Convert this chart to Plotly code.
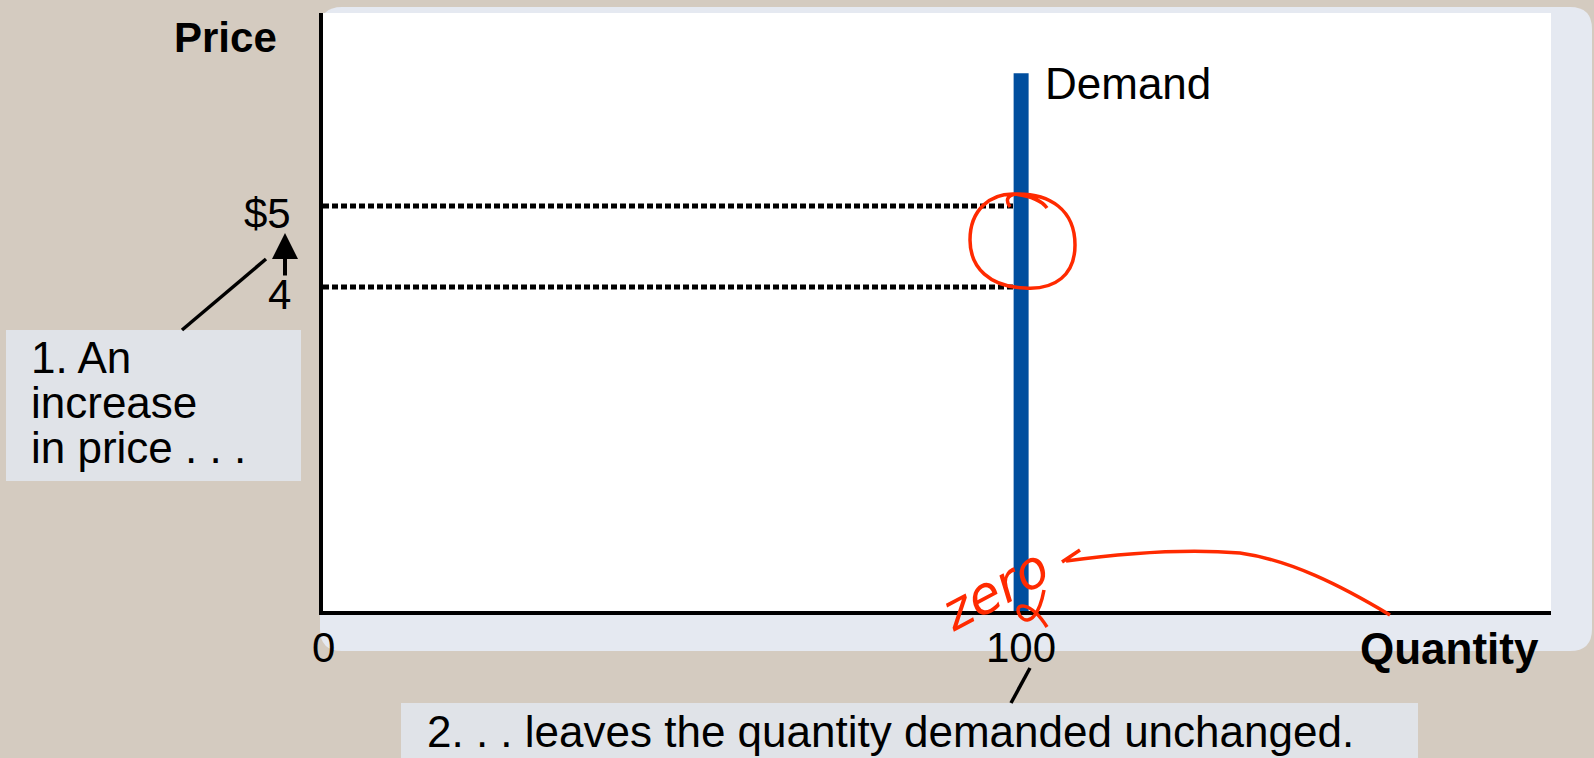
import plotly.graph_objects as go

# --- chart values ---
quantity_demanded = [100, 100]
demand_price = [0, 6.64]
guide_prices = [5, 4]
price_labels = ["$5", "4"]
qty_ticks = [0, 100]
qty_tick_labels = ["0", "100"]
x_max = 175.9
y_max = 7.383

W, H = 1594, 758
L, R, T, B = 323, 1551, 13, 611

FONT = "Liberation Sans, Arial, sans-serif"
RED = "#FF2A00"
BOX = "#E0E3E8"


def px(x):
    return (x - L) / (R - L)


def py(y):
    return (B - y) / (B - T)


def path(cmds):
    # cmds: list of (letter, [(x, y), ...]) in pixels -> svg path in paper units
    out = []
    for c, pts in cmds:
        out.append(c + " ".join(f"{px(x):.5f},{py(y):.5f}" for x, y in pts))
    return " ".join(out)


def rounded_rect(x0, y0, x1, y1, r):
    return path([
        ("M", [(x0 + r, y0)]),
        ("L", [(x1 - r, y0)]),
        ("Q", [(x1, y0), (x1, y0 + r)]),
        ("L", [(x1, y1 - r)]),
        ("Q", [(x1, y1), (x1 - r, y1)]),
        ("L", [(x0 + r, y1)]),
        ("Q", [(x0, y1), (x0, y1 - r)]),
        ("L", [(x0, y0 + r)]),
        ("Q", [(x0, y0), (x0 + r, y0)]),
    ]) + " Z"


fig = go.Figure()

# dotted guides from the price axis to the demand curve
for p in guide_prices:
    fig.add_trace(go.Scatter(
        x=[0, quantity_demanded[0]], y=[p, p], mode="lines",
        line=dict(color="black", width=5, dash="6px,3px"),
        hoverinfo="skip", showlegend=False,
    ))

fig.add_trace(go.Scatter(
    x=quantity_demanded, y=demand_price, mode="lines",
    line=dict(color="#004E9E", width=15),
    hoverinfo="skip", showlegend=False,
))

shapes = [
    # card behind the plot
    dict(type="path", xref="paper", yref="paper", layer="below",
         path=rounded_rect(320, 7, 1592, 651, 22),
         fillcolor="#E5E9F1", line=dict(width=0)),
    dict(type="rect", xref="paper", yref="paper", layer="below",
         x0=0, x1=1, y0=0, y1=1,
         fillcolor="white", line=dict(width=0)),
    # callout boxes
    dict(type="rect", xref="paper", yref="paper", layer="below",
         x0=px(6), x1=px(301), y0=py(330), y1=py(481),
         fillcolor=BOX, line=dict(width=0)),
    dict(type="rect", xref="paper", yref="paper", layer="below",
         x0=px(401), x1=px(1418), y0=py(703), y1=py(758),
         fillcolor=BOX, line=dict(width=0)),
    # leader lines
    dict(type="line", xref="paper", yref="paper",
         x0=px(182), y0=py(330), x1=px(266), y1=py(259),
         line=dict(color="black", width=3.5)),
    dict(type="line", xref="paper", yref="paper",
         x0=px(1030), y0=py(668), x1=px(1011), y1=py(703),
         line=dict(color="black", width=3.5)),
    # hand-drawn red circle
    dict(type="path", xref="paper", yref="paper",
         path=path([
             ("M", [(1010, 207)]),
             ("Q", [(1003, 197), (1015, 194)]),
             ("C", [(1050, 193), (1075, 210), (1075, 245)]),
             ("C", [(1075, 275), (1055, 290), (1025, 288)]),
             ("C", [(990, 287), (970, 268), (970, 240)]),
             ("C", [(970, 210), (990, 193), (1015, 194)]),
             ("C", [(1030, 196), (1042, 201), (1047, 208)]),
         ]),
         line=dict(color=RED, width=3.5)),
    # hand-drawn red arrow
    dict(type="path", xref="paper", yref="paper",
         path=path([
             ("M", [(1390, 615)]),
             ("C", [(1340, 585), (1290, 560), (1240, 553)]),
             ("C", [(1180, 548), (1110, 555), (1066, 561)]),
             ("M", [(1080, 550)]),
             ("L", [(1062, 562), (1085, 582)]),
         ]),
         line=dict(color=RED, width=3.5)),
    dict(type="path", xref="paper", yref="paper",
         path=path([
             ("M", [(1044, 590)]),
             ("C", [(1040, 612), (1030, 628), (1020, 616)]),
             ("C", [(1012, 602), (1030, 600), (1047, 627)]),
         ]),
         line=dict(color=RED, width=3.5)),
]

annotations = [
    dict(text="<b>Price</b>", x=px(225), y=py(38),
         font=dict(family=FONT, size=42, color="black")),
    dict(text="<b>Quantity</b>", x=px(1449), y=py(648)),
    dict(text="Demand", x=px(1043), y=py(83), xanchor="left"),
    dict(text="1. An", x=px(29), y=py(357), xanchor="left"),
    dict(text="increase", x=px(29), y=py(402), xanchor="left"),
    dict(text="in price . . .", x=px(29), y=py(447), xanchor="left"),
    dict(text="2. . . leaves the quantity demanded unchanged.",
         x=px(425), y=py(731), xanchor="left"),
    dict(text="zero", x=px(994), y=py(590), textangle=-28,
         font=dict(family="DejaVu Sans, sans-serif", size=52, color=RED, style="italic")),
    # price move arrow
    dict(text="", x=px(285), y=py(233), showarrow=True, ax=0, ay=44,
         arrowhead=2, arrowsize=1.3, arrowwidth=4, arrowcolor="black"),
]
for ann in annotations:
    ann.setdefault("xref", "paper")
    ann.setdefault("yref", "paper")
    ann.setdefault("showarrow", False)
    ann.setdefault("xanchor", "center")
    ann.setdefault("yanchor", "middle")
    ann.setdefault("font", dict(family=FONT, size=44, color="black"))

for p, lab in zip(guide_prices, price_labels):
    annotations.append(dict(
        text=lab, xref="paper", yref="y", x=0, y=p, xshift=-30, yshift=-7,
        xanchor="right", yanchor="middle", showarrow=False,
        font=dict(family=FONT, size=42, color="black"),
    ))

for q, lab in zip(qty_ticks, qty_tick_labels):
    annotations.append(dict(
        text=lab, xref="x", yref="paper", x=q, y=py(647),
        xanchor="center", yanchor="middle", showarrow=False,
        font=dict(family=FONT, size=42, color="black"),
    ))

fig.update_layout(
    width=W, height=H,
    margin=dict(l=L, r=W - R, t=T, b=H - B),
    paper_bgcolor="#D4CBC0",
    plot_bgcolor="white",
    showlegend=False,
    shapes=shapes,
    annotations=annotations,
    xaxis=dict(
        range=[0, x_max], showgrid=False, zeroline=False,
        showline=True, linecolor="black", linewidth=4,
        showticklabels=False, ticks="",
    ),
    yaxis=dict(
        range=[0, y_max], showgrid=False, zeroline=False,
        showline=True, linecolor="black", linewidth=4,
        showticklabels=False, ticks="",
    ),
)

fig.write_html("out.html", config={"displayModeBar": False},
               post_script="document.body.style.margin='0px';")
